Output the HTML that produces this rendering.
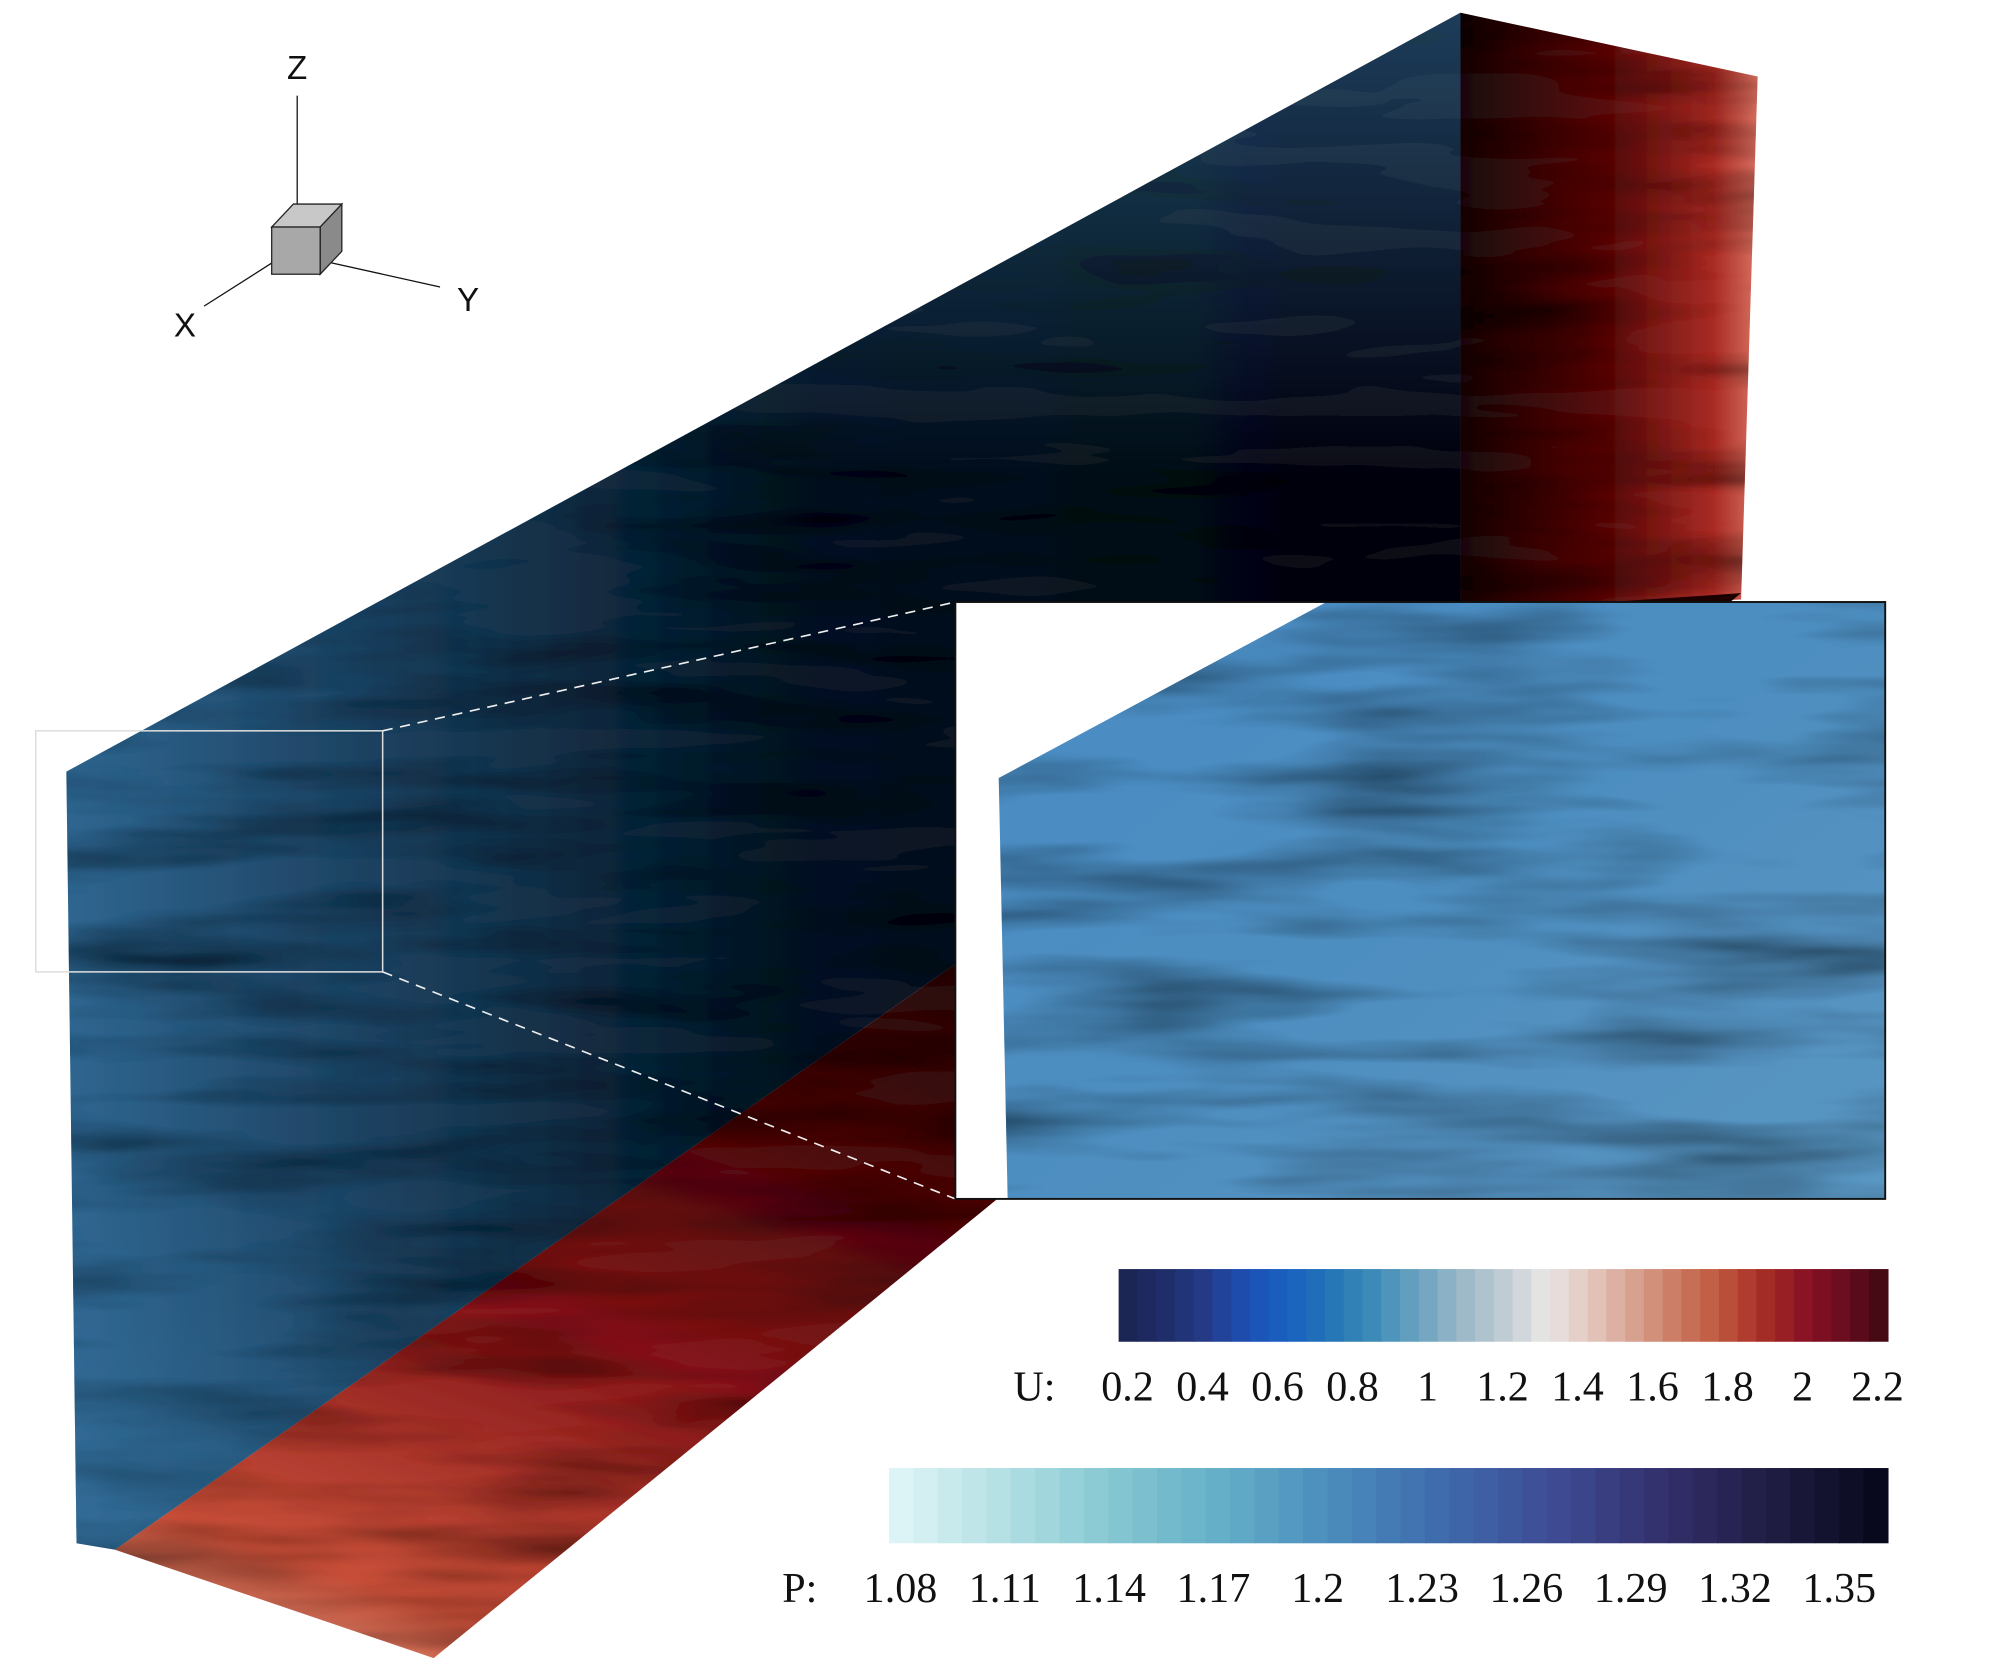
<!DOCTYPE html>
<html><head><meta charset="utf-8"><style>
html,body{margin:0;padding:0;background:#fff;}
svg{display:block;}
text{font-family:"Liberation Serif",serif;fill:#111;}
.ax{font-family:"Liberation Sans",sans-serif;}
</style></head><body>
<svg id="fig" width="2000" height="1667" viewBox="0 0 1568 1307" preserveAspectRatio="none" xmlns="http://www.w3.org/2000/svg">
<defs>
<filter id="tex" x="0" y="0" width="100%" height="100%">
<feTurbulence type="fractalNoise" baseFrequency="0.004 0.03" numOctaves="3" seed="4" result="n"/>
<feColorMatrix in="n" type="matrix" values="0 0 0 0 0  0 0 0 0 0  0 0 0 0 0  0 0 0 -1.6 0.95" result="d"/>
<feComposite in="d" in2="SourceGraphic" operator="in" result="dm"/>
<feMerge><feMergeNode in="SourceGraphic"/><feMergeNode in="dm"/></feMerge>
</filter>
<linearGradient id="gFront" x1="0" y1="0" x2="1" y2="0">
<stop offset="0" stop-color="#2f6690"/><stop offset="0.2" stop-color="#1e4464"/>
<stop offset="0.5" stop-color="#0b1a28"/><stop offset="1" stop-color="#070d14"/>
</linearGradient>
<linearGradient id="gFrontTop" x1="0" y1="0" x2="0" y2="1">
<stop offset="0" stop-color="#3a7aa8" stop-opacity="0.5"/><stop offset="0.3" stop-color="#3a7aa8" stop-opacity="0"/>
<stop offset="0.75" stop-color="#3a7aa8" stop-opacity="0"/><stop offset="1" stop-color="#3a7aa8" stop-opacity="0.35"/>
</linearGradient>
<linearGradient id="gBottom" x1="0.05" y1="1" x2="0.45" y2="0.2">
<stop offset="0" stop-color="#e29a80"/><stop offset="0.12" stop-color="#c8503a"/><stop offset="0.4" stop-color="#8a1a1c"/><stop offset="0.75" stop-color="#3a0a0c"/><stop offset="1" stop-color="#1a0506"/>
</linearGradient>
<linearGradient id="gRight" x1="0" y1="0" x2="1" y2="0">
<stop offset="0" stop-color="#1a0608"/><stop offset="0.5" stop-color="#5a1010"/><stop offset="0.85" stop-color="#a82a24"/><stop offset="1" stop-color="#d87060"/>
</linearGradient>
<linearGradient id="gInset" x1="0" y1="0" x2="1" y2="1">
<stop offset="0" stop-color="#4a8cc4"/><stop offset="0.5" stop-color="#4e8ec0"/><stop offset="1" stop-color="#5a96c2"/>
</linearGradient>
<clipPath id="insetClip"><rect x="749" y="472" width="729" height="468"/></clipPath>
</defs>

<g>
<polygon points="1145,10 1378,60 1365,470 1145,480" fill="url(#gRight)" filter="url(#tex)"/>
<polygon points="90,1215 340,1300 1365,465 1145,480" fill="url(#gBottom)" filter="url(#tex)"/>
<polygon points="52,605 1145,10 1145,480 90,1215 60,1210" fill="url(#gFront)" filter="url(#tex)"/>
<polygon points="52,605 1145,10 1145,480 90,1215 60,1210" fill="url(#gFrontTop)"/>
</g>

<rect x="28" y="573" width="272" height="189" fill="none" stroke="#ddd" stroke-width="1.2"/>
<line x1="300" y1="573" x2="749" y2="472" stroke="#eee" stroke-width="1.3" stroke-dasharray="8,6"/>
<line x1="300" y1="762" x2="749" y2="940" stroke="#eee" stroke-width="1.3" stroke-dasharray="8,6"/>

<g clip-path="url(#insetClip)">
<rect x="749" y="472" width="729" height="468" fill="#fff"/>
<polygon points="783,610 1040,472 1478,472 1478,940 790,940" fill="url(#gInset)" filter="url(#tex)"/>
</g>
<rect x="749" y="472" width="729" height="468" fill="none" stroke="#111" stroke-width="1.5"/>

<g>
<line x1="233" y1="75" x2="233" y2="160" stroke="#111" stroke-width="1"/>
<line x1="255" y1="205" x2="345" y2="225" stroke="#111" stroke-width="1"/>
<line x1="215" y1="205" x2="160" y2="240" stroke="#111" stroke-width="1"/>
<polygon points="213,178 230,160 268,160 251,178" fill="#c8c8c8" stroke="#222"/>
<polygon points="251,178 268,160 268,197 251,215" fill="#8a8a8a" stroke="#222"/>
<rect x="213" y="178" width="38" height="37" fill="#a8a8a8" stroke="#222"/>
<text class="ax" x="233" y="62" font-size="26" text-anchor="middle">Z</text>
<text class="ax" x="367" y="244" font-size="26" text-anchor="middle">Y</text>
<text class="ax" x="145" y="264" font-size="26" text-anchor="middle">X</text>
</g>

<g id="cbU"></g>
<g id="cbP"></g>
</svg>
<script>
const uTicks = [0.2,0.4,0.6,0.8,1,1.2,1.4,1.6,1.8,2,2.2];
const uTickLabels = ["0.2","0.4","0.6","0.8","1","1.2","1.4","1.6","1.8","2","2.2"];
const uColors = ["#1b2450","#1f2c68","#253a86","#1c4fb4","#1a62c0","#2476b6","#3f8cb8","#6aa2c0","#99b8c8","#c0ccd4","#e8e6e4","#e4c8c0","#d8a494","#cc7c64","#c05a40","#a83026","#8c1424","#6a0c20","#3c0a10"];
const pTicks = [1.08,1.11,1.14,1.17,1.2,1.23,1.26,1.29,1.32,1.35];
const pTickLabels = ["1.08","1.11","1.14","1.17","1.2","1.23","1.26","1.29","1.32","1.35"];
const pColors = ["#e2f6f8","#b4e0e4","#86c8d2","#64aec8","#4a8cbc","#3e6aac","#3e4c94","#332f6c","#1e1c40","#06071a"];
const NS = "http://www.w3.org/2000/svg";
function lerpHex(a,b,t){const pa=parseInt(a.slice(1),16),pb=parseInt(b.slice(1),16);
 const c=[16,8,0].map(s=>Math.round(((pa>>s)&255)*(1-t)+((pb>>s)&255)*t));
 return "rgb("+c.join(",")+")";}
function sample(cols,t){const f=t*(cols.length-1);const i=Math.min(Math.floor(f),cols.length-2);return lerpHex(cols[i],cols[i+1],f-i);}
function drawBar(gid,cols,ticks,labels,title,bx0,bx1,by,bh,tx0,tx1,ly,lx,segs){
 const g=document.getElementById(gid);
 const tmin=ticks[0],tmax=ticks[ticks.length-1];
 const xs=v=>tx0+(v-tmin)/(tmax-tmin)*(tx1-tx0);
 const w=(bx1-bx0)/segs;
 for(let i=0;i<segs;i++){
  const r=document.createElementNS(NS,"rect");
  r.setAttribute("x",bx0+i*w);r.setAttribute("y",by);r.setAttribute("width",w+0.6);r.setAttribute("height",bh);
  r.setAttribute("fill",sample(cols,(i+0.5)/segs));
  
  
  g.appendChild(r);
 }
 ticks.forEach((v,i)=>{
  const t=document.createElementNS(NS,"text");
  t.setAttribute("x",xs(v));t.setAttribute("y",ly);t.setAttribute("font-size","33");t.setAttribute("text-anchor","middle");
  t.textContent=labels[i];
  
  
  g.appendChild(t);
 });
 const tt=document.createElementNS(NS,"text");
 tt.setAttribute("x",lx);tt.setAttribute("y",ly);tt.setAttribute("font-size","33");tt.setAttribute("text-anchor","middle");
 tt.textContent=title;
 
 
 g.appendChild(tt);
}
drawBar("cbU",uColors,uTicks,uTickLabels,"U:",877,1480,995,57,884,1472,1098,811,41);
drawBar("cbP",pColors,pTicks,pTickLabels,"P:",697,1480,1151,59,706,1442,1256,627,41);
</script>
</body></html>
